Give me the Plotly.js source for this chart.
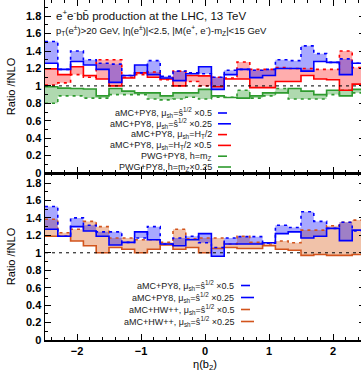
<!DOCTYPE html>
<html>
<head>
<meta charset="utf-8">
<script src="https://cdn.plot.ly/plotly-3.0.1.min.js"></script>
<style>
  html, body { margin: 0; padding: 0; background: #ffffff; overflow: hidden; }
  #plot { width: 370px; height: 377px; }
</style>
</head>
<body>
<div id="plot"></div>
<script>
// Bin edges in eta(b2)
const etaEdges = [-2.5, -2.3, -2.1, -1.9, -1.7, -1.5, -1.3, -1.1, -0.9, -0.7, -0.5, -0.3, -0.1,
                  0.1, 0.3, 0.5, 0.7, 0.9, 1.1, 1.3, 1.5, 1.7, 1.9, 2.1, 2.3, 2.5];

// Upper panel: ratios to fNLO
const py8Shat05   = [1.51, 1.19, 1.40, 1.30, 1.26, 1.25, 1.12, 1.15, 1.29, 1.11, 1.17, 1.15, 1.14, 1.10, 1.18, 1.19, 1.18, 1.19, 1.30, 1.29, 1.46, 1.37, 1.27, 1.31, 1.26];
const py8Shat025  = [1.26, 1.19, 1.28, 1.24, 1.19, 1.04, 1.12, 1.24, 1.13, 1.09, 1.06, 1.14, 1.22, 0.96, 1.13, 1.19, 1.095, 1.12, 1.20, 1.20, 1.17, 1.28, 1.27, 1.13, 1.26];
const py8Ht       = [1.01, 1.035, 1.13, 1.10, 1.30, 1.30, 1.10, 1.13, 1.16, 1.07, 1.17, 1.05, 1.00, 1.10, 1.09, 1.275, 1.19, 1.19, 1.21, 1.20, 1.20, 1.19, 1.19, 1.40, 1.21];
const py8Ht05     = [1.195, 1.13, 1.22, 1.12, 1.08, 1.00, 1.09, 1.15, 1.10, 1.08, 1.00, 1.12, 1.115, 0.99, 1.08, 1.08, 0.98, 0.98, 1.05, 1.05, 1.12, 1.08, 1.07, 0.95, 1.02];
const pwgHmz      = [0.80, 0.885, 0.885, 0.86, 0.86, 0.90, 0.90, 0.90, 0.85, 0.84, 0.85, 0.87, 0.85, 0.87, 0.87, 0.95, 0.86, 0.885, 0.97, 0.85, 0.85, 0.85, 0.90, 0.95, 0.92];
const pwgHmz025   = [0.99, 0.975, 0.97, 0.965, 0.885, 0.97, 0.94, 0.92, 0.92, 0.885, 0.92, 0.92, 0.96, 0.885, 0.866, 0.86, 0.885, 0.92, 0.92, 0.97, 0.94, 0.90, 0.95, 0.885, 0.96];

// Lower panel: ratios to fNLO
const lowPy8Shat05  = [1.53, 1.19, 1.40, 1.315, 1.24, 1.24, 1.12, 1.17, 1.30, 1.10, 1.17, 1.19, 1.115, 1.06, 1.17, 1.185, 1.185, 1.11, 1.315, 1.29, 1.47, 1.36, 1.28, 1.35, 1.25];
const lowPy8Shat025 = [1.27, 1.19, 1.30, 1.25, 1.19, 1.09, 1.12, 1.24, 1.15, 1.10, 1.08, 1.15, 1.22, 0.96, 1.10, 1.10, 1.10, 1.115, 1.22, 1.24, 1.17, 1.19, 1.28, 1.14, 1.26];
const hwShat05      = [1.385, 1.23, 1.27, 1.36, 1.30, 1.17, 1.17, 1.15, 1.15, 1.12, 1.27, 1.16, 1.17, 1.17, 1.10, 1.19, 1.12, 1.10, 1.135, 1.115, 1.26, 1.26, 1.31, 1.35, 1.375];
const hwShat025     = [1.19, 1.19, 1.135, 1.08, 1.00, 1.06, 1.04, 1.00, 1.04, 1.09, 1.04, 1.06, 1.00, 1.05, 1.06, 1.05, 1.05, 1.08, 1.04, 1.03, 0.97, 0.98, 0.97, 0.97, 0.98];

// y tick values shared by both panels
const yTicks = [0, 0.2, 0.4, 0.6, 0.8, 1, 1.2, 1.4, 1.6, 1.8];
const xTicks = [-2, -1, 0, 1, 2];

// step histogram: repeat last value so the final bin gets its full width
const steps = v => v.concat([v[v.length - 1]]);

const BLUE = '#0000ff', RED = '#ff0000', GREEN = '#2e9a2e', ORANGE = '#d2541c';
const DASH = '3px,4px';

function band(lo, hi, xa, ya, fillcolor) {
  return [
    { x: etaEdges, y: steps(lo), xaxis: xa, yaxis: ya, mode: 'lines',
      line: { shape: 'hv', width: 0 }, hoverinfo: 'skip', showlegend: false },
    { x: etaEdges, y: steps(hi), xaxis: xa, yaxis: ya, mode: 'lines', fill: 'tonexty',
      fillcolor: fillcolor, line: { shape: 'hv', width: 0 }, hoverinfo: 'skip', showlegend: false }
  ];
}
function stepLine(v, xa, ya, color, dash) {
  return { x: etaEdges, y: steps(v), xaxis: xa, yaxis: ya, mode: 'lines',
           line: { shape: 'hv', width: 1.6, color: color, dash: dash || 'solid' },
           hoverinfo: 'skip', showlegend: false };
}

const traces = [].concat(
  band(pwgHmz, pwgHmz025, 'x2', 'y2', 'rgba(46,154,46,0.38)'),
  band(py8Ht, py8Ht05, 'x2', 'y2', 'rgba(255,0,0,0.32)'),
  band(py8Shat05, py8Shat025, 'x2', 'y2', 'rgba(0,0,255,0.34)'),
  [
    stepLine(pwgHmz, 'x2', 'y2', GREEN, DASH),
    stepLine(pwgHmz025, 'x2', 'y2', GREEN),
    stepLine(py8Ht, 'x2', 'y2', RED, DASH),
    stepLine(py8Ht05, 'x2', 'y2', RED),
    stepLine(py8Shat05, 'x2', 'y2', BLUE, DASH),
    stepLine(py8Shat025, 'x2', 'y2', BLUE)
  ],
  band(hwShat05, hwShat025, 'x', 'y', 'rgba(222,110,50,0.42)'),
  band(lowPy8Shat05, lowPy8Shat025, 'x', 'y', 'rgba(0,0,255,0.34)'),
  [
    stepLine(hwShat05, 'x', 'y', ORANGE, DASH),
    stepLine(hwShat025, 'x', 'y', ORANGE),
    stepLine(lowPy8Shat05, 'x', 'y', BLUE, DASH),
    stepLine(lowPy8Shat025, 'x', 'y', BLUE)
  ]
);

// figure geometry (pixels)
const W = 370, H = 377, ML = 45, MR = 5, MT = 0, MB = 37;
const PW = W - ML - MR, PH = H - MT - MB;
const split = 167 / PH;           // lower panel height fraction
const px = x => (x - ML) / PW;
const py = y => 1 - (y - MT) / PH;

const FONT = 'Liberation Sans, Arial, sans-serif';
const tickFont = { family: FONT, size: 11, color: '#000', weight: 'bold' };
const titleFont = { family: FONT, size: 11, color: '#000' };

function xAxis(anchor, labels) {
  return {
    anchor: anchor, range: [-2.5, 2.5], tickmode: 'array', tickvals: xTicks,
    showticklabels: labels, ticks: 'inside', ticklen: 6, tickwidth: 1, tickcolor: '#000',
    minor: { ticks: 'inside', dtick: 0.2, tick0: 0, ticklen: 3, tickwidth: 1, tickcolor: '#000', showgrid: false },
    showline: true, linecolor: '#000', linewidth: 1.5, mirror: 'ticks',
    showgrid: false, zeroline: false, tickfont: tickFont
  };
}
function yAxis(anchor, domain, top) {
  return {
    anchor: anchor, domain: domain, range: [0, top], tickmode: 'array', tickvals: yTicks,
    ticktext: yTicks.map(v => String(v)),
    ticks: 'inside', ticklen: 6, tickwidth: 1, tickcolor: '#000',
    minor: { ticks: 'inside', dtick: 0.1, tick0: 0, ticklen: 3, tickwidth: 1, tickcolor: '#000', showgrid: false },
    showline: true, linecolor: '#000', linewidth: 1.5, mirror: 'ticks',
    showgrid: false, zeroline: false, tickfont: tickFont,
    title: { text: 'Ratio /fNLO', font: titleFont, standoff: 8 }
  };
}

// legend rows: text right-aligned, line sample to the right
const topLegend = [
  ['aMC+PY8, μ<sub>sh</sub>=ŝ<sup>1/2</sup> ×0.5', BLUE, DASH],
  ['aMC+PY8, μ<sub>sh</sub>=ŝ<sup>1/2</sup> ×0.25', BLUE, 'solid'],
  ['aMC+PY8, μ<sub>sh</sub>=H<sub>T</sub>/2', RED, DASH],
  ['aMC+PY8, μ<sub>sh</sub>=H<sub>T</sub>/2 ×0.5', RED, 'solid'],
  ['PWG+PY8, h=m<sub>Z</sub>', GREEN, DASH],
  ['PWG+PY8, h=m<sub>Z</sub>×0.25', GREEN, 'solid']
];
const lowLegend = [
  ['aMC+PY8, μ<sub>sh</sub>=ŝ<sup>1/2</sup> ×0.5', BLUE, DASH],
  ['aMC+PY8, μ<sub>sh</sub>=ŝ<sup>1/2</sup> ×0.25', BLUE, 'solid'],
  ['aMC+HW++, μ<sub>sh</sub>=ŝ<sup>1/2</sup> ×0.5', ORANGE, DASH],
  ['aMC+HW++, μ<sub>sh</sub>=ŝ<sup>1/2</sup> ×0.25', ORANGE, 'solid']
];

const annotations = [], shapes = [];
function addLegend(rows, textRight, lineX0, lineX1, y0, dy) {
  rows.forEach((r, i) => {
    const y = y0 + i * dy;
    annotations.push({ xref: 'paper', yref: 'paper', x: px(textRight), y: py(y),
      xanchor: 'right', yanchor: 'middle', showarrow: false, text: r[0],
      font: { family: FONT, size: 9, color: '#222' } });
    shapes.push({ type: 'line', xref: 'paper', yref: 'paper', x0: px(lineX0), x1: px(lineX1),
      y0: py(y), y1: py(y), line: { color: r[1], width: 1.6, dash: r[2] === 'solid' ? 'solid' : 'dash' } });
  });
}
addLegend(topLegend, 214, 218, 231, 113, 10.8);
addLegend(lowLegend, 236, 241, 254, 285.5, 12);

// reference line at ratio 1 in both panels
shapes.push({ type: 'line', xref: 'x2', yref: 'y2', x0: -2.5, x1: 2.5, y0: 1, y1: 1,
  line: { color: '#000', width: 1, dash: '3px,4px' } });
shapes.push({ type: 'line', xref: 'x', yref: 'y', x0: -2.5, x1: 2.5, y0: 1, y1: 1,
  line: { color: '#000', width: 1, dash: '3px,4px' } });

// process and cut labels
annotations.push({ xref: 'paper', yref: 'paper', x: px(54), y: py(15), xanchor: 'left', yanchor: 'middle',
  showarrow: false, text: 'e<sup>+</sup>e<sup>-</sup>bb̄ production at the LHC, 13 TeV',
  font: { family: FONT, size: 11.5, color: '#111' } });
annotations.push({ xref: 'paper', yref: 'paper', x: px(54), y: py(30), xanchor: 'left', yanchor: 'middle',
  showarrow: false,
  text: 'p<sub>T</sub>(e<sup>±</sup>)&gt;20 GeV, |η(e<sup>±</sup>)|&lt;2.5, |M(e<sup>+</sup>, e<sup>-</sup>)-m<sub>Z</sub>|&lt;15 GeV',
  font: { family: FONT, size: 9.5, color: '#111' } });

const layout = {
  width: W, height: H,
  margin: { l: ML, r: MR, t: MT, b: MB },
  paper_bgcolor: '#ffffff', plot_bgcolor: '#ffffff',
  showlegend: false,
  xaxis: Object.assign(xAxis('y', true), { title: { text: 'η(b<sub>2</sub>)', font: titleFont, standoff: 4 } }),
  yaxis: yAxis('x', [0, split], 1.915),
  xaxis2: xAxis('y2', false),
  yaxis2: yAxis('x2', [split, 1], (PH - 167) / 87.1),
  annotations: annotations,
  shapes: shapes
};

Plotly.newPlot('plot', traces, layout, { displayModeBar: false, staticPlot: true });
</script>
</body>
</html>
